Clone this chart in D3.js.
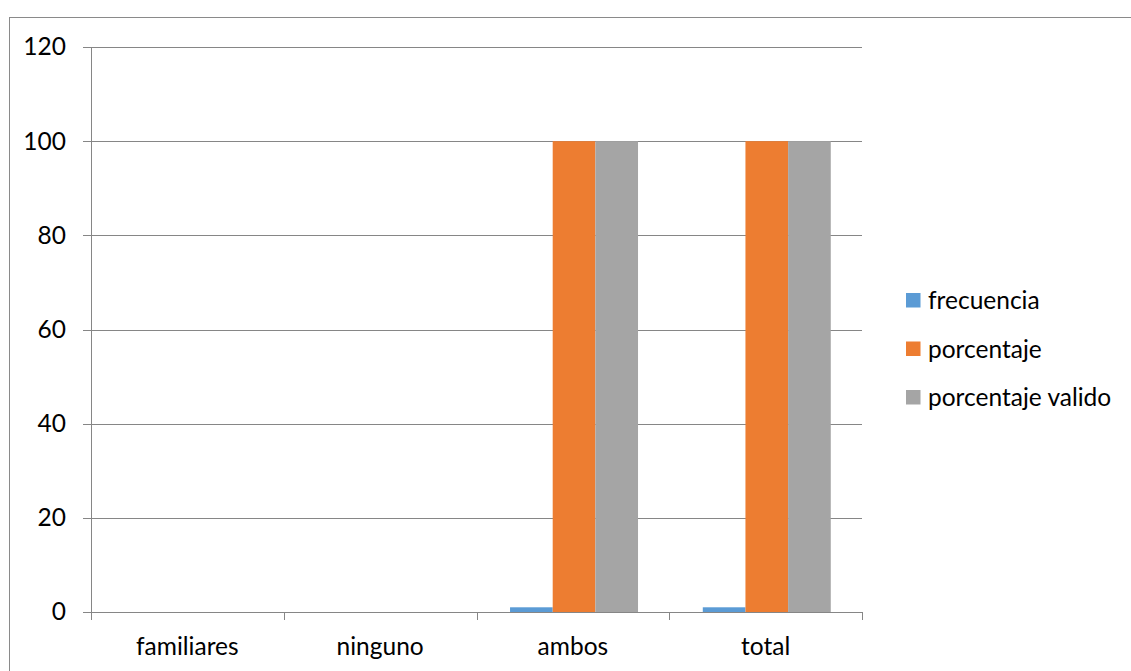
<!DOCTYPE html>
<html>
<head>
<meta charset="utf-8">
<script src="https://cdn.jsdelivr.net/npm/d3@7"></script>
<style>
  html, body { margin: 0; padding: 0; background: #fff; }
  svg { display: block; }
  text { font-family: Lato, "Open Sans", sans-serif; fill: #000; }
</style>
</head>
<body>
<svg id="chart" width="1131" height="671"></svg>
<script>
// Chart data
const categories = ["familiares", "ninguno", "ambos", "total"];
const seriesNames = ["frecuencia", "porcentaje", "porcentaje valido"];
const frecuencia = [0, 0, 1, 1];
const porcentaje = [0, 0, 100, 100];
const porcentajeValido = [0, 0, 100, 100];
const yTicks = [0, 20, 40, 60, 80, 100, 120];
const colors = ["#5B9BD5", "#ED7D31", "#A5A5A5"];

const seriesValues = [frecuencia, porcentaje, porcentajeValido];

const svg = d3.select("#chart");
const W = 1131, H = 671;
const fontSize = "24.5px";

// Chart-area frame
svg.append("rect")
  .attr("x", 9.5).attr("y", 17.5)
  .attr("width", W + 10).attr("height", H + 10)
  .attr("fill", "none").attr("stroke", "#8a8a8a").attr("stroke-width", 1);

const plot = { left: 91, right: 862, top: 47, bottom: 612 };

const x = d3.scaleBand().domain(categories)
  .range([plot.left, plot.right]).paddingInner(0).paddingOuter(0);
const x1 = d3.scaleBand().domain(seriesNames)
  .range([x.bandwidth() * 0.174, x.bandwidth() * 0.838]);
const y = d3.scaleLinear().domain([0, 120]).range([plot.bottom, plot.top]);

const gridColor = "#868686";

// Horizontal gridlines with outside tick stubs
const yAxis = d3.axisLeft(y).tickValues(yTicks)
  .tickSize(-(plot.right - plot.left)).tickSizeOuter(0)
  .tickFormat(d3.format("d"));
const gy = svg.append("g").attr("transform", `translate(${plot.left},0)`).call(yAxis);
gy.select(".domain").remove();
gy.selectAll(".tick line")
  .attr("x1", -8).attr("stroke", gridColor).attr("shape-rendering", "crispEdges");
gy.selectAll(".tick text")
  .attr("x", -25).style("font-size", fontSize).style("font-family", "Lato, sans-serif")
  .attr("fill", "#000");

// Vertical axis line
svg.append("line")
  .attr("x1", plot.left).attr("x2", plot.left)
  .attr("y1", plot.top).attr("y2", plot.bottom + 8)
  .attr("stroke", gridColor).attr("shape-rendering", "crispEdges");

// Bars
const groups = svg.append("g").selectAll("g")
  .data(categories).join("g")
  .attr("transform", d => `translate(${x(d)},0)`);

groups.selectAll("rect")
  .data((c, i) => seriesNames.map((s, k) => ({ s, k, v: seriesValues[k][i] })))
  .join("rect")
  .attr("x", d => x1(d.s))
  .attr("width", x1.bandwidth())
  .attr("y", d => y(d.v))
  .attr("height", d => y(0) - y(d.v))
  .attr("fill", d => colors[d.k]);

// Category axis
const xAxis = d3.axisBottom(x).tickSize(0).tickSizeOuter(0).tickPadding(26);
const gx = svg.append("g").attr("transform", `translate(0,${plot.bottom})`).call(xAxis);
gx.select(".domain").attr("stroke", gridColor).attr("shape-rendering", "crispEdges");
gx.selectAll(".tick text").style("font-size", fontSize).style("font-family", "Lato, sans-serif")
  .attr("fill", "#000");

// Category boundary ticks
const bounds = categories.map(c => x(c) + x.bandwidth());
svg.append("g").selectAll("line").data(bounds).join("line")
  .attr("x1", d => Math.round(d) + 0.5).attr("x2", d => Math.round(d) + 0.5)
  .attr("y1", plot.bottom).attr("y2", plot.bottom + 8)
  .attr("stroke", gridColor);

// Legend
const legend = svg.append("g").attr("transform", "translate(906,293)");
const items = legend.selectAll("g").data(seriesNames).join("g")
  .attr("transform", (d, i) => `translate(0,${i * 48.5})`);
items.append("rect").attr("width", 14.5).attr("height", 14.5)
  .attr("fill", (d, i) => colors[i]);
items.append("text").attr("x", 22).attr("y", 7.5).attr("dy", "0.35em")
  .style("font-size", fontSize).text(d => d);
</script>
</body>
</html>
